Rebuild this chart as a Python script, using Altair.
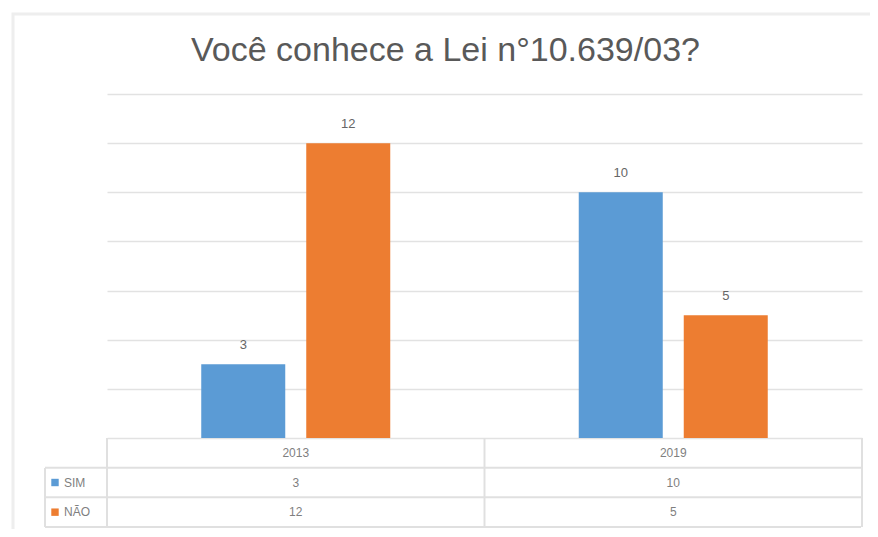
import altair as alt
import pandas as pd

years = ["2013", "2019"]
series = ["SIM", "NÃO"]
sim_values = [3, 10]
nao_values = [12, 5]
colors = ["#5B9BD5", "#ED7D31"]
title_text = "Você conhece a Lei n°10.639/03?"
rows = ["header", "SIM", "NÃO"]
y_ticks = [0, 2, 4, 6, 8, 10, 12, 14]

bars_df = pd.DataFrame(
    [{"year": y, "series": "SIM", "value": v} for y, v in zip(years, sim_values)]
    + [{"year": y, "series": "NÃO", "value": v} for y, v in zip(years, nao_values)]
)

table_df = pd.DataFrame(
    [{"year": y, "row": "header", "label": y} for y in years]
    + [{"year": y, "row": "SIM", "label": str(v)} for y, v in zip(years, sim_values)]
    + [{"year": y, "row": "NÃO", "label": str(v)} for y, v in zip(years, nao_values)]
)
legend_df = pd.DataFrame({"row": series, "series": series})
years_df = pd.DataFrame({"year": years})
last_year_df = pd.DataFrame({"year": [years[-1]]})
rows_df = pd.DataFrame({"row": rows})
one_df = pd.DataFrame({"a": [0]})

W, H = 755, 344
FONT = "Liberation Sans"

year_scale = alt.Scale(domain=years, paddingInner=0, paddingOuter=0)
x_enc = alt.X("year:N", sort=years, scale=year_scale, axis=None)
xoff_enc = alt.XOffset("series:N", sort=series,
                       scale=alt.Scale(domain=series, paddingInner=0.2, paddingOuter=0.8976))
color_enc = alt.Color("series:N", scale=alt.Scale(domain=series, range=colors), legend=None)
y_axis = alt.Axis(values=y_ticks, grid=True, labels=False, ticks=False, domain=False,
                  title=None, gridColor="#e2e2e2", gridWidth=1.5)

bars = alt.Chart(bars_df).mark_bar().encode(
    x=x_enc,
    xOffset=xoff_enc,
    y=alt.Y("value:Q", scale=alt.Scale(domain=[0, 14]), axis=y_axis),
    color=color_enc,
)
labels = alt.Chart(bars_df).mark_text(font=FONT, fontSize=13, color="#666666", dy=-19, baseline="middle").encode(
    x=x_enc,
    xOffset=xoff_enc,
    y=alt.Y("value:Q", scale=alt.Scale(domain=[0, 14]), axis=y_axis),
    text="value:Q",
)
bar_layer = alt.layer(bars, labels)

row_scale = alt.Scale(type="band", domain=rows, range=[H, H + 89], paddingInner=0, paddingOuter=0)

table_text = alt.Chart(table_df).mark_text(font=FONT, fontSize=12, color="#7f7f7f").encode(
    x=x_enc,
    y=alt.Y("row:N", scale=row_scale, axis=None),
    text="label:N",
)
h_lines = alt.Chart(rows_df).mark_rule(color="#e0e0e0", strokeWidth=2).encode(
    y=alt.Y("row:N", scale=row_scale, axis=None, bandPosition=1),
    x=alt.value(-62),
    x2=alt.value(W - 1),
)
v_lines = alt.Chart(years_df).mark_rule(color="#e0e0e0", strokeWidth=2).encode(
    x=alt.X("year:N", sort=years, scale=year_scale, axis=None, bandPosition=0),
    y=alt.value(H),
    y2=alt.value(H + 89),
)
v_last = alt.Chart(last_year_df).mark_rule(color="#e0e0e0", strokeWidth=2).encode(
    x=alt.X("year:N", sort=years, scale=year_scale, axis=None, bandPosition=1),
    y=alt.value(H),
    y2=alt.value(H + 89),
)
v_left = alt.Chart(one_df).mark_rule(color="#e0e0e0", strokeWidth=2).encode(
    x=alt.value(-62),
    y=alt.value(H + 30),
    y2=alt.value(H + 89),
)
legend_sq = alt.Chart(legend_df).mark_square(size=55, opacity=1).encode(
    x=alt.value(-52),
    y=alt.Y("row:N", scale=row_scale, axis=None),
    color=color_enc,
)
legend_txt = alt.Chart(legend_df).mark_text(font=FONT, fontSize=12, color="#7f7f7f", align="left").encode(
    x=alt.value(-43),
    y=alt.Y("row:N", scale=row_scale, axis=None),
    text="series:N",
)
frame = alt.Chart(one_df).mark_rect(fill="transparent", stroke="#eeeeee", strokeWidth=3).encode(
    x=alt.value(-94), x2=alt.value(W + 40), y=alt.value(-80), y2=alt.value(H + 100),
)
table_layer = alt.layer(h_lines, v_lines, v_last, v_left, table_text, legend_sq, legend_txt)

chart = alt.layer(frame, bar_layer, table_layer).resolve_scale(y="independent").properties(
    width=W,
    height=H,
    padding={"left": 99, "top": 86, "right": 8, "bottom": 91},
    autosize=alt.AutoSizeParams(type="none"),
    title=alt.TitleParams(title_text, font=FONT, fontSize=34, fontWeight="normal", color="#595959",
                          anchor="middle", frame="group", dx=-39, offset=0, dy=82, baseline="alphabetic"),
).configure(background="white").configure_view(strokeWidth=0, stroke="transparent").configure_axis(domain=False)

chart.save("out.html", embed_options={"renderer": "svg", "actions": False})
